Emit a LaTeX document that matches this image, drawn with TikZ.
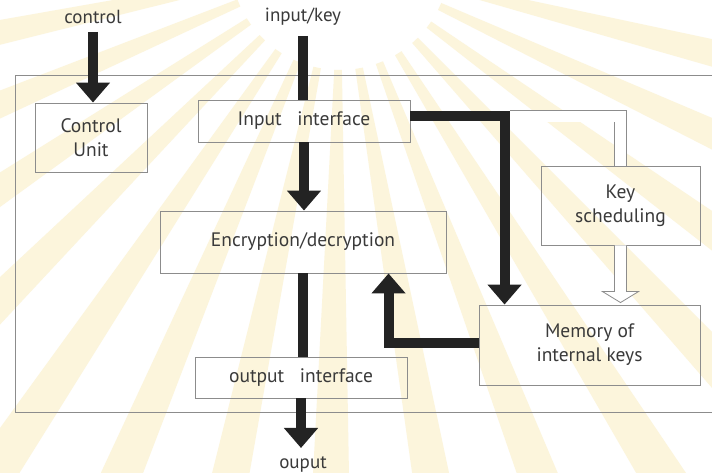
\documentclass[tikz,border=0pt]{standalone}
\usepackage{fontspec}
\setmainfont{PT Sans}
\usetikzlibrary{arrows.meta,calc}
\definecolor{ink}{HTML}{232323}
\definecolor{edge}{HTML}{8C8C8C}
\definecolor{txt}{HTML}{3A3A3A}
\definecolor{ray}{HTML}{FCF5DC}
\begin{document}
\begin{tikzpicture}[x=1pt,y=-1pt,
  box/.style={draw=edge, line width=0.9pt, inner sep=0pt, align=center,
    text=txt, font=\fontsize{19.5}{24}\selectfont},
  label/.style={text=txt, inner sep=2pt, font=\fontsize{19}{20}\selectfont},
  fat/.style={draw=ink, line width=10pt, line join=miter},
  fathead/.style={fat, -{Triangle[width=33pt,length=20pt]}},
  hollow/.style={draw=edge, line width=0.8pt, double=white, double distance=11pt},
  hollowtip/.style={draw=edge, line width=0.8pt, fill=white, line join=miter}]
\useasboundingbox (0,0) rectangle (712,472);
\fill[white] (0,0) rectangle (712,472);

% pale sunburst in the background
\begin{scope}
  \clip (0,0) rectangle (712,472);
  \begin{scope}[shift={(340,-40)}]
    \foreach \a in {-10,1,...,190}
      \fill[ray] (\a:110) -- (\a:950) -- ({\a+4}:950) -- ({\a+4}:110) -- cycle;
  \end{scope}
\end{scope}

% outer frame (open on the right)
\draw[edge, line width=0.9pt] (712,75) -- (15,75) -- (15,412) -- (712,412);

% blocks
\node[box, minimum width=112pt, minimum height=69pt] (cu)  at (91,137.5)   {Control\\Unit};
\node[box, minimum width=212pt, minimum height=42pt] (in)  at (304,121)    {Input~~~interface};
\node[box, minimum width=286pt, minimum height=62pt] (enc) at (303,242)    {Encryption/decryption};
\node[box, minimum width=159pt, minimum height=79pt] (ks)  at (620.5,205.5) {Key\\scheduling};
\node[box, minimum width=221pt, minimum height=80pt] (mem) at (589.5,345)  {Memory of\\internal keys};
\node[box, minimum width=212pt, minimum height=41pt] (out) at (301,377.5)  {output~~~interface};

% external signals
\node[label] (ctl) at (93,17)  {control};
\node[label] (ik)  at (303,17) {input/key};
\node[label] (op)  at (303,464) {ouput};

% data and control flow
\draw[fathead, shorten <=6pt] (ctl.south) -- (ctl.south |- cu.north);
\draw[fat, shorten <=8pt] (ik.south) -- (ik.south |- in.north);
\draw[fathead] (in.south) -- (in.south |- enc.north);
\draw[fat] (enc.south) -- (enc.south |- out.north);
\draw[fathead, shorten >=6pt] (out.south) -- (out.south |- op.north);
\draw[fathead] ($(in.north east)!0.38!(in.south east)$) -| ($(mem.north west)+(26,0)$);
\draw[fathead] ($(mem.north west)!0.47!(mem.south west)$) -| ($(enc.south west)+(229,0)$);

% key path to the scheduler
\coordinate (tap) at (510,116);
\draw[hollow] (tap) -| (ks.north);

% scheduled keys into memory
\coordinate (K) at (ks.south);
\coordinate (M) at (ks.south |- mem.north);
\draw[hollowtip] ($(K)+(-6,0)$) -- ($(M)+(-6,-13)$) -- ($(M)+(-18,-13)$)
  -- ($(M)+(0,-2)$) -- ($(M)+(18,-13)$) -- ($(M)+(6,-13)$) -- ($(K)+(6,0)$);
\end{tikzpicture}
\end{document}
